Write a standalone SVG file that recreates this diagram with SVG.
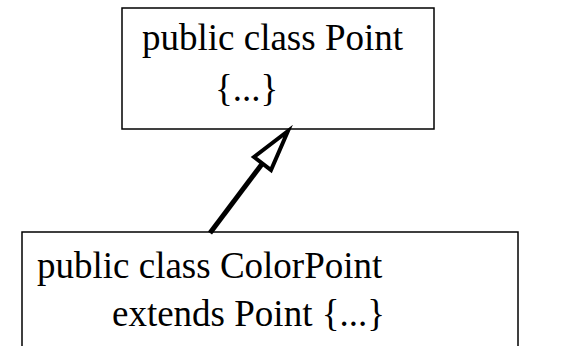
<svg xmlns="http://www.w3.org/2000/svg" width="577" height="346" viewBox="0 0 577 346">
<style>
.box{fill:#fff;stroke:#000;stroke-width:1.5}
.t{font-family:"Liberation Serif","Times New Roman",serif;font-size:37px;fill:#000}
.conn{stroke:#000;stroke-width:5;fill:none}
.head{fill:#fff;stroke:#000;stroke-width:4;stroke-linejoin:miter}
</style>
<rect width="577" height="346" fill="#fff"/>
<g id="point">
<rect class="box" x="122" y="8" width="312" height="121"/>
<text class="t" x="142" y="50">public class Point</text>
<text class="t" x="215" y="101">{...}</text>
</g>
<g id="colorpoint">
<rect class="box" x="22" y="232" width="496" height="130"/>
<text class="t" x="37" y="278">public class ColorPoint</text>
<text class="t" x="112" y="326">extends Point {...}</text>
</g>
<g id="connectors">
<line class="conn" x1="210" y1="233" x2="262" y2="164"/>
<polygon class="head" points="288,131 271,170 254,157"/>
</g>
</svg>
